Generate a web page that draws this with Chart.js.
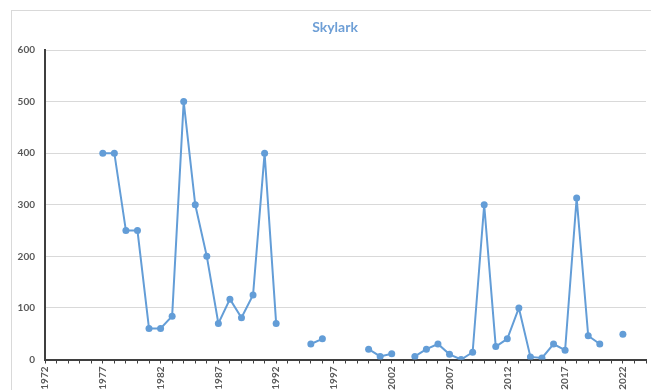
<!DOCTYPE html>
<html>
<head>
<meta charset="utf-8">
<title>Skylark</title>
<script src="https://cdn.jsdelivr.net/npm/chart.js@4.4.1/dist/chart.umd.min.js"></script>
<style>
  html, body { margin: 0; padding: 0; background: #fff; }
  #wrap { position: relative; width: 651px; height: 390px; overflow: hidden; }
</style>
</head>
<body>
<div id="wrap"><canvas id="chart" width="651" height="390"></canvas></div>
<script>
// Skylark — counts per year, gaps where no survey was done
const YEARS = [1977, 1978, 1979, 1980, 1981, 1982, 1983, 1984, 1985, 1986,
  1987, 1988, 1989, 1990, 1991, 1992, 1993, 1994, 1995, 1996,
  1997, 1998, 1999, 2000, 2001, 2002, 2003, 2004, 2005, 2006,
  2007, 2008, 2009, 2010, 2011, 2012, 2013, 2014, 2015, 2016,
  2017, 2018, 2019, 2020, 2021, 2022];
const COUNTS = [400, 400, 250, 250, 60, 60, 84, 500, 300, 200,
  70, 117, 81, 125, 400, 70, null, null, 30, 40,
  null, null, null, 20, 6, 11, null, 6, 20, 30,
  10, 0, 14, 300, 25, 40, 100, 5, 3, 30,
  18, 313, 46, 30, null, 49];
const X_MIN = 1972, X_MAX = 2024, LABEL_EVERY = 5;
const Y_MAX = 600, Y_STEP = 100;

const BLUE = "#639dd7";
const INK = "#595959";
const AXIS = "#3f3f3f";
const GRID = "#d9d9d9";

// frame + title drawn by hand so they sit where the layout wants them
const frame = {
  id: "frame",
  beforeDraw(chart) {
    const ctx = chart.ctx;
    ctx.save();
    ctx.strokeStyle = GRID;
    ctx.lineWidth = 1;
    ctx.strokeRect(11.5, 10.5, 720, 420);
    ctx.fillStyle = "#6e9fd6";
    ctx.font = "bold 14px Lato, 'Open Sans', sans-serif";
    ctx.textAlign = "center";
    ctx.textBaseline = "middle";
    ctx.fillText("Skylark", 335, 27);
    ctx.restore();
  },
};

const points = YEARS.map((y, i) => ({ x: y, y: COUNTS[i] }));

new Chart(document.getElementById("chart"), {
  type: "line",
  data: { datasets: [{
    label: "Skylark", data: points,
    borderColor: BLUE, backgroundColor: BLUE,
    borderWidth: 2, pointRadius: 3.5, pointHoverRadius: 3.5,
    pointBorderWidth: 0, spanGaps: false, tension: 0,
  }] },
  options: {
    responsive: false, animation: false,
    layout: { padding: { top: 50, right: 5, left: 0, bottom: 0 } },
    plugins: { legend: { display: false }, tooltip: { enabled: false } },
    scales: {
      x: {
        type: "linear", min: X_MIN, max: X_MAX,
        afterFit: (s) => { s.height = 30.5; s.paddingLeft = 0; s.paddingRight = 0; },
        border: { color: AXIS, width: 2 },
        grid: { drawOnChartArea: false, drawTicks: true, tickLength: 4, color: AXIS, lineWidth: 1 },
        ticks: {
          stepSize: 1, autoSkip: false, minRotation: 90, maxRotation: 90, padding: 3,
          color: INK, font: { family: "Lato, 'Open Sans', sans-serif", size: 10, weight: "bold" },
          callback: (v) => ((v - X_MIN) % LABEL_EVERY === 0 ? String(v) : ""),
        },
      },
      y: {
        min: 0, max: Y_MAX,
        afterFit: (s) => { s.width = 45; s.paddingTop = 0; s.paddingBottom = 0; },
        border: { color: AXIS, width: 2 },
        grid: { color: GRID, lineWidth: 1, drawTicks: false },
        ticks: {
          stepSize: Y_STEP, padding: 10,
          color: INK, font: { family: "Lato, 'Open Sans', sans-serif", size: 10, weight: "bold" },
        },
      },
    },
  },
  plugins: [frame],
});
</script>
</body>
</html>
